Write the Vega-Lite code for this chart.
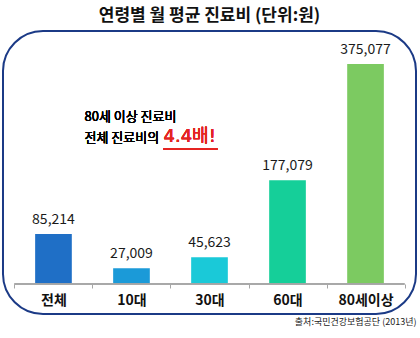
{
  "$schema": "https://vega.github.io/schema/vega-lite/v6.json",
  "width": 413,
  "height": 283,
  "autosize": {"type": "none"},
  "padding": {"left": 3, "top": 31, "right": 4, "bottom": 24},
  "background": "white",
  "config": {
    "view": {"stroke": "#1b3a86", "strokeWidth": 2, "cornerRadius": 40},
    "font": "Noto Sans CJK KR"
  },
  "title": {
    "text": "연령별 월 평균 진료비 (단위:원)",
    "fontSize": 17,
    "fontWeight": "bold",
    "color": "#111111",
    "font": "Noto Sans CJK KR",
    "anchor": "middle",
    "offset": 6
  },
  "data": {
    "values": [
      {"group": "전체", "cost": 85214},
      {"group": "10대", "cost": 27009},
      {"group": "30대", "cost": 45623},
      {"group": "60대", "cost": 177079},
      {"group": "80세이상", "cost": 375077}
    ]
  },
  "layer": [
    {
      "mark": {"type": "bar", "width": {"band": 0.47}},
      "encoding": {
        "x": {
          "field": "group",
          "type": "nominal",
          "sort": null,
          "scale": {"domain": ["전체", "10대", "30대", "60대", "80세이상"], "paddingInner": 0, "paddingOuter": 0.147},
          "axis": {
            "title": "출처:국민건강보험공단 (2013년)",
            "titleAnchor": "end",
            "titleAlign": "right",
            "titleFontSize": 9,
            "titleFontWeight": "normal",
            "titleColor": "#222222",
            "titlePadding": 10,
            "titleFont": "Noto Sans CJK KR",
            "domain": false,
            "tickBand": "extent",
            "tickColor": "#a6a6a6",
            "tickSize": 4,
            "offset": -30,
            "labelAngle": 0,
            "labelFont": "Noto Sans CJK KR",
            "labelFontSize": 14,
            "labelFontWeight": "bold",
            "labelColor": "#111111",
            "labelPadding": 5
          }
        },
        "y": {
          "field": "cost",
          "type": "quantitative",
          "scale": {"domain": [-51150, 431340], "nice": false, "zero": false},
          "axis": null
        },
        "color": {
          "field": "group",
          "type": "nominal",
          "scale": {
            "domain": ["전체", "10대", "30대", "60대", "80세이상"],
            "range": ["#1f6fc6", "#1b9ad8", "#1ac9d8", "#15cf99", "#7cca61"]
          },
          "legend": null
        }
      }
    },
    {
      "mark": {"type": "text", "baseline": "alphabetic", "dy": -10, "fontSize": 14, "color": "#1a1a1a", "font": "Noto Sans CJK KR"},
      "encoding": {
        "x": {"field": "group", "type": "nominal", "sort": null},
        "y": {"field": "cost", "type": "quantitative"},
        "text": {"field": "cost", "type": "quantitative", "format": ",d"}
      }
    },
    {
      "mark": {"type": "rule", "color": "#a6a6a6", "strokeWidth": 1, "xOffset": -39, "x2Offset": 39},
      "encoding": {
        "x": {"datum": "전체"},
        "x2": {"datum": "80세이상"},
        "y": {"datum": 0}
      }
    },
    {
      "mark": {"type": "text", "align": "left", "baseline": "middle", "dx": -47, "fontSize": 13, "fontWeight": "normal", "color": "#000000", "font": "Noto Sans CJK KR"},
      "encoding": {
        "x": {"datum": "10대"},
        "y": {"datum": 284700},
        "text": {"value": "80세 이상 진료비"}
      }
    },
    {
      "mark": {"type": "text", "align": "left", "baseline": "middle", "dx": -47, "fontSize": 13, "fontWeight": "normal", "color": "#000000", "font": "Noto Sans CJK KR"},
      "encoding": {
        "x": {"datum": "10대"},
        "y": {"datum": 248900},
        "text": {"value": "전체 진료비의"}
      }
    },
    {
      "mark": {"type": "text", "align": "left", "baseline": "middle", "dx": 32, "fontSize": 18, "fontWeight": "normal", "color": "#e52421", "font": "DejaVu Sans, Noto Sans CJK KR"},
      "encoding": {
        "x": {"datum": "10대"},
        "y": {"datum": 251000},
        "text": {"value": "4.4배!"}
      }
    },
    {
      "mark": {"type": "rule", "color": "#e52421", "strokeWidth": 2, "xOffset": 32, "x2Offset": 8},
      "encoding": {
        "x": {"datum": "10대"},
        "x2": {"datum": "30대"},
        "y": {"datum": 230160}
      }
    }
  ]
}
